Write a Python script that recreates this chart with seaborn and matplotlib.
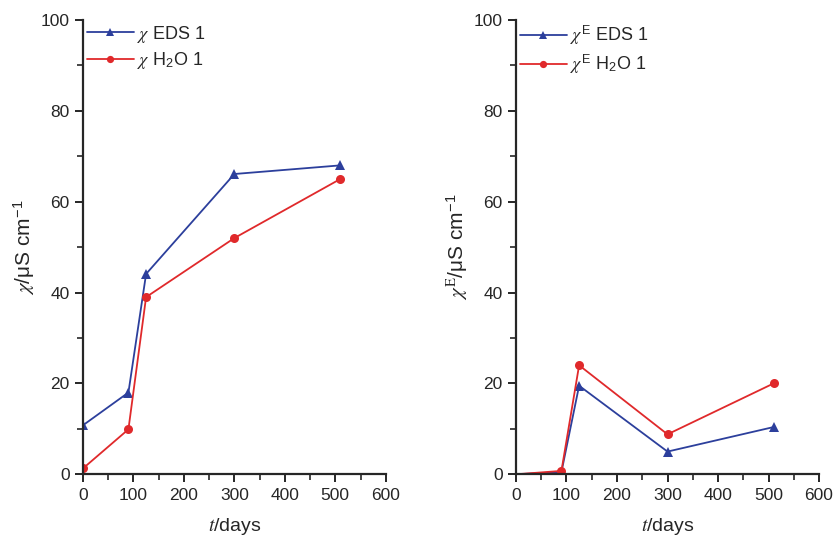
import numpy as np
import pandas as pd
import matplotlib
matplotlib.use("Agg")
import matplotlib.pyplot as plt
from matplotlib.ticker import MultipleLocator
import seaborn as sns

# Data
t_days = [0, 90, 125, 300, 510]
chi_eds = [10.8, 18.0, 44.1, 66.1, 68.0]
chi_h2o = [1.3, 9.9, 39.0, 52.0, 65.0]
chiE_eds = [0.0, 0.5, 19.5, 5.0, 10.4]
chiE_h2o = [0.0, 0.75, 24.0, 8.8, 20.0]

left_labels = [r"$\chi$ EDS 1", r"$\chi$ H$_{\mathregular{2}}$O 1"]
right_labels = [r"$\chi^{\mathregular{E}}$ EDS 1", r"$\chi^{\mathregular{E}}$ H$_{\mathregular{2}}$O 1"]
x_ticks = [0, 100, 200, 300, 400, 500, 600]
y_ticks = [0, 20, 40, 60, 80, 100]

sns.set_style("ticks")
plt.rcParams["font.family"] = ["Liberation Sans", "DejaVu Sans"]
plt.rcParams["mathtext.fontset"] = "stix"

blue = "#2c3f9c"
red = "#e0292b"

def make_df(a, b, labels):
    return pd.DataFrame({
        "t": t_days + t_days,
        "val": a + b,
        "series": [labels[0]] * len(t_days) + [labels[1]] * len(t_days),
    })

fig = plt.figure(figsize=(8.36, 5.36), dpi=100)
ax1 = fig.add_axes([0.0993, 0.1151, 0.3621, 0.8476])
ax2 = fig.add_axes([0.6172, 0.1151, 0.3625, 0.8476])

panels = [
    (ax1, make_df(chi_eds, chi_h2o, left_labels), left_labels,
     r"$\chi$/μS cm$^{\mathregular{-1}}$"),
    (ax2, make_df(chiE_eds, chiE_h2o, right_labels), right_labels,
     r"$\chi^{\mathrm{E}}$/μS cm$^{\mathregular{-1}}$"),
]

for i, (ax, df, labels, ylab) in enumerate(panels):
    sns.lineplot(data=df, x="t", y="val", hue="series", style="series",
                 palette=[blue, red], markers=["^", "o"], dashes=False,
                 markersize=6.5, linewidth=1.3, markeredgewidth=0,
                 ax=ax, legend=True)
    ax.set_xlim(0, 600)
    ax.set_ylim(0, 100)
    ax.set_xticks(x_ticks)
    ax.set_yticks(y_ticks)
    ax.xaxis.set_minor_locator(MultipleLocator(50))
    ax.yaxis.set_minor_locator(MultipleLocator(10))
    ax.tick_params(which="major", length=6, width=1.4, labelsize=12.5, direction="out")
    ax.tick_params(which="minor", length=4, width=1.2, direction="out")
    for s in ["left", "bottom"]:
        ax.spines[s].set_linewidth(1.6)
    sns.despine(ax=ax)
    ax.set_xlabel(r"$t$/days", fontsize=14, labelpad=10)
    ax.set_ylabel(ylab, fontsize=15, labelpad=3)
    leg = ax.legend(loc="upper left", frameon=False, fontsize=13,
                    handlelength=2.6, handletextpad=0.2, labelspacing=0.3,
                    borderaxespad=0.0, borderpad=0.2, markerscale=0.8)
    if i == 1:
        for ln in ax.lines:
            ln.set_markevery(slice(1, None))

fig.savefig("out.png", dpi=100)
